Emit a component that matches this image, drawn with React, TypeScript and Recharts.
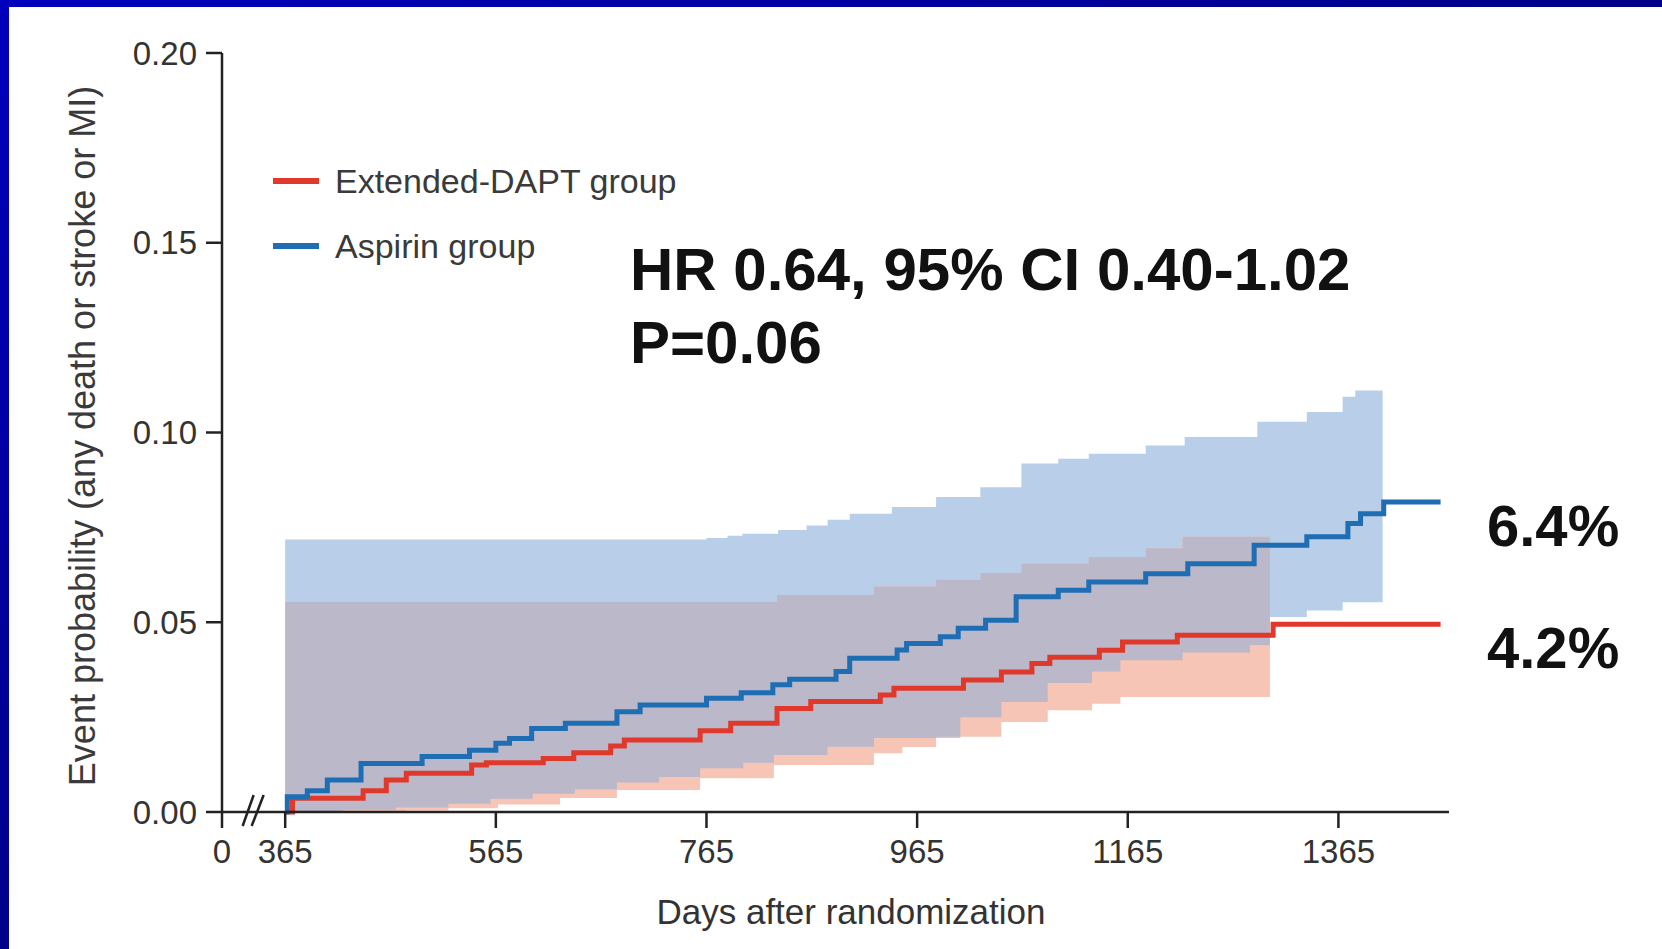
import React from "react";
import { ComposedChart, Area, Line, XAxis, YAxis, Legend, ReferenceDot } from "recharts";

type Step = [number, number];

// left edge of the broken x axis is labelled "0"
const AXIS_START = 305;
const AXIS_END = 1470;
const BREAK_DAY = 336;

const xTicks = [AXIS_START, 365, 565, 765, 965, 1165, 1365];
const yTicks = [0, 0.05, 0.1, 0.15, 0.2];

const groupNames = ["Extended-DAPT group", "Aspirin group"];

// Kaplan-Meier estimates, [day, event probability]
const extendedDapt: Step[] = [
    [365, 0], [372, 0.0036], [439, 0.0056], [461, 0.0084], [480, 0.0102], [542, 0.0124],
    [556, 0.013], [610, 0.0141], [639, 0.0156], [674, 0.0174], [687, 0.019], [759, 0.0214],
    [788, 0.0234], [832, 0.0273], [864, 0.0291], [930, 0.0308], [943, 0.0326], [1009, 0.0348],
    [1045, 0.0369], [1074, 0.0391], [1091, 0.0408], [1138, 0.0426], [1160, 0.0448],
    [1212, 0.0466], [1303, 0.0495], [1462, 0.0495],
];

const aspirin: Step[] = [
    [365, 0], [367, 0.004], [386, 0.0056], [405, 0.0084], [437, 0.0128], [495, 0.0146],
    [540, 0.0163], [565, 0.0181], [578, 0.0194], [599, 0.022], [631, 0.0234], [680, 0.0264],
    [702, 0.0282], [765, 0.03], [798, 0.0314], [828, 0.0335], [844, 0.035], [888, 0.037],
    [901, 0.0405], [946, 0.0427], [955, 0.0444], [987, 0.0462], [1004, 0.0484], [1030, 0.0505],
    [1059, 0.0567], [1099, 0.0584], [1128, 0.0606], [1182, 0.0628], [1222, 0.0654],
    [1285, 0.0703], [1335, 0.0725], [1374, 0.076], [1386, 0.0786], [1408, 0.0817], [1462, 0.0817],
];

// 95% confidence limits
const extendedDaptUpper: Step[] = [
    [365, 0.0554], [832, 0.0572], [924, 0.0594], [983, 0.0612], [1025, 0.063], [1064, 0.0655],
    [1128, 0.0672], [1182, 0.0695], [1217, 0.0725], [1300, 0.0725],
];
const extendedDaptLower: Step[] = [
    [365, 0], [480, 0.0004], [520, 0.001], [567, 0.002], [626, 0.0037], [680, 0.0058],
    [759, 0.0089], [829, 0.0124], [924, 0.0155], [951, 0.0171], [983, 0.0198], [1045, 0.0237],
    [1089, 0.0268], [1131, 0.0285], [1158, 0.0303], [1300, 0.0303],
];
const aspirinUpper: Step[] = [
    [365, 0.0718], [765, 0.0722], [785, 0.0728], [799, 0.0733], [833, 0.0743], [860, 0.0755],
    [880, 0.077], [901, 0.0786], [941, 0.0804], [983, 0.083], [1025, 0.0856], [1064, 0.0918],
    [1099, 0.0931], [1128, 0.0944], [1182, 0.0966], [1219, 0.0988], [1288, 0.1028],
    [1335, 0.1054], [1369, 0.1094], [1381, 0.1111], [1407, 0.1111],
];
const aspirinLower: Step[] = [
    [365, 0], [420, 0.0006], [470, 0.0012], [520, 0.0022], [560, 0.0035], [600, 0.0048],
    [640, 0.006], [680, 0.0078], [720, 0.0092], [759, 0.0115], [800, 0.013], [829, 0.015],
    [880, 0.0172], [924, 0.0195], [1006, 0.025], [1045, 0.029], [1089, 0.034],
    [1131, 0.037], [1158, 0.04], [1217, 0.042], [1281, 0.044], [1300, 0.0514],
    [1335, 0.0531], [1369, 0.0553], [1407, 0.0553],
];

const RED = "#e0382b";
const BLUE = "#1f6db3";

// value of a step curve at a given day (undefined outside its range)
function stepAt(s: Step[], d: number) {
    if (d < s[0][0] || d > s[s.length - 1][0]) return undefined;
    let v = s[0][1];
    for (const [x, y] of s) {
        if (x <= d) v = y;
        else break;
    }
    return v;
}

const allDays = Array.from(
    new Set(
        [extendedDapt, aspirin, extendedDaptUpper, extendedDaptLower, aspirinUpper, aspirinLower]
            .flat()
            .map((p) => p[0])
    )
).sort((a, b) => a - b);

const rows = allDays.map((day) => {
    const rLo = stepAt(extendedDaptLower, day);
    const rHi = stepAt(extendedDaptUpper, day);
    const bLo = stepAt(aspirinLower, day);
    const bHi = stepAt(aspirinUpper, day);
    const redBand = rLo !== undefined && rHi !== undefined ? [rLo, rHi] : undefined;
    const blueBand = bLo !== undefined && bHi !== undefined ? [bLo, bHi] : undefined;
    const overlap =
        redBand && blueBand
            ? [Math.max(redBand[0], blueBand[0]), Math.min(redBand[1], blueBand[1])]
            : undefined;
    return {
        day,
        red: stepAt(extendedDapt, day),
        blue: stepAt(aspirin, day),
        redBand,
        blueBand,
        overlap,
    };
});

const BreakMark = (props: any) => {
    const { cx, cy } = props;
    if (cx == null || cy == null) return null;
    return (
        <g stroke="#222" strokeWidth={2.5}>
            <line x1={cx - 12} y1={cy + 14} x2={cx - 1} y2={cy - 17} />
            <line x1={cx - 3} y1={cy + 14} x2={cx + 9} y2={cy - 17} />
        </g>
    );
};

const LegendBox = (props: any) => {
    const items = (props.payload || [])
        .filter((p: any) => groupNames.includes(p.value))
        .sort((a: any, b: any) => groupNames.indexOf(a.value) - groupNames.indexOf(b.value));
    return (
        <div style={{ fontFamily: "Arial, 'Liberation Sans', sans-serif", whiteSpace: "nowrap" }}>
            {items.map((it: any) => (
                <div key={it.value} style={{ display: "flex", alignItems: "center", height: 46, marginBottom: 19 }}>
                    <span style={{ display: "inline-block", flex: "none", width: 46, height: 6, background: it.color, marginRight: 16 }} />
                    <span style={{ fontSize: 34, color: "#3a3a3a" }}>{it.value}</span>
                </div>
            ))}
        </div>
    );
};

export default function App() {
    const font = "Arial, 'Liberation Sans', sans-serif";
    return (
        <div style={{ position: "absolute", left: 0, top: 0, width: 1662, height: 949, background: "#fff", overflow: "hidden" }}>
            <ComposedChart
                width={1662}
                height={949}
                data={rows}
                margin={{ top: 53, right: 213, bottom: 77, left: 122 }}
            >
                <XAxis
                    dataKey="day"
                    type="number"
                    domain={[AXIS_START, AXIS_END]}
                    ticks={xTicks}
                    allowDataOverflow
                    height={60}
                    tickFormatter={(v: number) => (v === AXIS_START ? "0" : String(v))}
                    tick={{ fontSize: 33, fill: "#333", fontFamily: font }}
                    tickSize={16}
                    tickMargin={12}
                    tickLine={{ stroke: "#222", strokeWidth: 2.5 }}
                    axisLine={{ stroke: "#222", strokeWidth: 2.5 }}
                />
                <YAxis
                    type="number"
                    domain={[0, 0.2]}
                    ticks={yTicks}
                    width={100}
                    tickFormatter={(v: number) => v.toFixed(2)}
                    tick={{ fontSize: 33, fill: "#333", fontFamily: font }}
                    tickSize={16}
                    tickMargin={9}
                    tickLine={{ stroke: "#222", strokeWidth: 2.5 }}
                    axisLine={{ stroke: "#222", strokeWidth: 2.5 }}
                />
                <Area dataKey="blueBand" type="stepAfter" fill="#b9cfe9" fillOpacity={1} stroke="none" legendType="none" isAnimationActive={false} />
                <Area dataKey="redBand" type="stepAfter" fill="#f7c5b5" fillOpacity={1} stroke="none" legendType="none" isAnimationActive={false} />
                <Area dataKey="overlap" type="stepAfter" fill="#bbb8ca" fillOpacity={1} stroke="none" legendType="none" isAnimationActive={false} />
                <Line dataKey="red" name={groupNames[0]} type="stepAfter" stroke={RED} strokeWidth={5} dot={false} activeDot={false} isAnimationActive={false} />
                <Line dataKey="blue" name={groupNames[1]} type="stepAfter" stroke={BLUE} strokeWidth={5} dot={false} activeDot={false} isAnimationActive={false} />
                <ReferenceDot x={BREAK_DAY} y={0} r={0} shape={BreakMark} ifOverflow="visible" />
                <Legend
                    layout="vertical"
                    align="center"
                    verticalAlign="middle"
                    content={LegendBox}
                    wrapperStyle={{ left: 273, top: 158, width: 600, height: 130 }}
                />
            </ComposedChart>

            <svg width={1662} height={949} style={{ position: "absolute", left: 0, top: 0, pointerEvents: "none" }} fontFamily={font}>
                <text x={630} y={290} fontSize={60} fontWeight="bold" fill="#111">HR 0.64, 95% CI 0.40-1.02</text>
                <text x={630} y={363} fontSize={60} fontWeight="bold" fill="#111">P=0.06</text>
                <text x={1487} y={546} fontSize={58} fontWeight="bold" fill="#111">6.4%</text>
                <text x={1487} y={668} fontSize={58} fontWeight="bold" fill="#111">4.2%</text>
                <text x={851} y={924} fontSize={35} fill="#333" textAnchor="middle">Days after randomization</text>
                <text x={95} y={436} fontSize={36} fill="#3a3a3a" textAnchor="middle" transform="rotate(-90 95 436)">
                    Event probability (any death or stroke or MI)
                </text>
            </svg>

            <div style={{ position: "absolute", left: 0, top: 0, width: 1662, height: 7, background: "linear-gradient(to right, #0000bd, #000088)" }} />
            <div style={{ position: "absolute", left: 0, top: 0, width: 9, height: 949, background: "linear-gradient(to bottom, #0000bd, #00008b)" }} />
        </div>
    );
}
